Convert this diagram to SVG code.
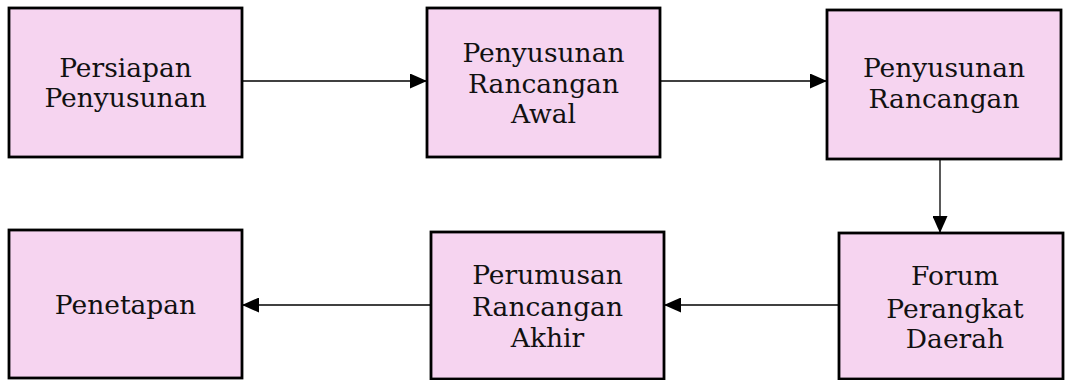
<svg xmlns="http://www.w3.org/2000/svg" width="1065" height="380" viewBox="0 0 1065 380">
<style>
.box{fill:#F6D4F0;stroke:#000;stroke-width:2.8}
.t{font-family:"DejaVu Serif","Liberation Serif",serif;font-size:26.5px;fill:#111;text-anchor:middle}
.c{stroke:#000;stroke-width:1.3;fill:none;marker-end:url(#ah)}
</style>
<defs>
<marker id="ah" markerWidth="17" markerHeight="15" refX="17" refY="7.5" orient="auto" markerUnits="userSpaceOnUse">
<path d="M0,0 L17,7.5 L0,15 Z" fill="#000"/>
</marker>
</defs>
<rect width="1065" height="380" fill="#fff"/>
<g id="n1"><rect class="box" x="9" y="8" width="233" height="149"/>
<text class="t" x="125.5" y="77">Persiapan</text><text class="t" x="125.5" y="107">Penyusunan</text></g>
<g id="n2"><rect class="box" x="427" y="8" width="233" height="149"/>
<text class="t" x="543.5" y="62">Penyusunan</text><text class="t" x="543.5" y="93">Rancangan</text><text class="t" x="543.5" y="123">Awal</text></g>
<g id="n3"><rect class="box" x="827" y="10" width="234" height="149"/>
<text class="t" x="944" y="77">Penyusunan</text><text class="t" x="944" y="108">Rancangan</text></g>
<g id="n4"><rect class="box" x="9" y="230" width="233" height="148"/>
<text class="t" x="125.5" y="314">Penetapan</text></g>
<g id="n5"><rect class="box" x="431" y="232" width="233" height="147"/>
<text class="t" x="547.5" y="284">Perumusan</text><text class="t" x="547.5" y="316">Rancangan</text><text class="t" x="547.5" y="347">Akhir</text></g>
<g id="n6"><rect class="box" x="839" y="233" width="224" height="146"/>
<text class="t" x="955" y="285">Forum</text><text class="t" x="955" y="318">Perangkat</text><text class="t" x="955" y="348">Daerah</text></g>
<g id="connectors">
<line class="c" x1="242" y1="81" x2="427" y2="81"/>
<line class="c" x1="660" y1="81" x2="827" y2="81"/>
<line class="c" x1="940" y1="159" x2="940" y2="233"/>
<line class="c" x1="839" y1="305" x2="664" y2="305"/>
<line class="c" x1="431" y1="305" x2="242" y2="305"/>
</g>
</svg>
